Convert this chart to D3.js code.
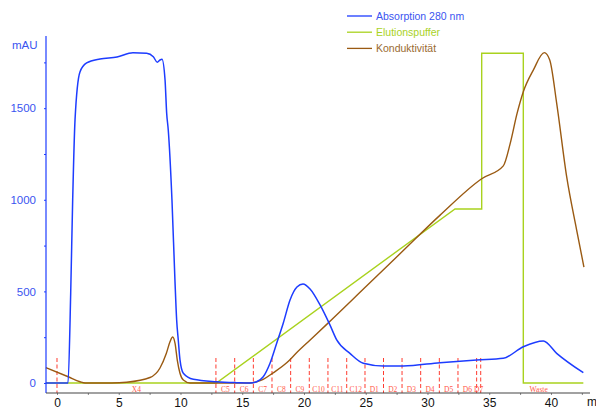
<!DOCTYPE html>
<html>
<head>
<meta charset="utf-8">
<script src="https://cdn.jsdelivr.net/npm/d3@7"></script>
<style>
  body { margin: 0; background: #fff; }
  svg { display: block; font-family: "Liberation Sans", Arial, sans-serif; }
</style>
</head>
<body>
<svg width="596" height="408"></svg>
<script>
// Absorption 280 nm (mAU) : [min, value]
var absorption = [
  [-0.9, 0], [0.89, 0], [1.11, 491], [1.27, 999], [1.46, 1436], [1.86, 1698],
  [2.4, 1747], [3.48, 1769], [4.86, 1779], [6.15, 1803], [7.26, 1800],
  [7.8, 1781], [8.12, 1751], [8.34, 1763], [8.5, 1767], [8.75, 1654],
  [8.88, 1474], [9.01, 1381], [9.31, 999], [9.55, 562], [9.69, 344],
  [9.82, 235], [9.96, 126], [10.23, 53], [11.04, 20], [12.93, 7],
  [14.55, 2], [15.63, 0], [16.17, 7], [16.7, 34], [17.25, 108],
  [17.79, 217], [18.32, 326], [18.87, 453], [19.43, 524], [19.92, 540],
  [20.49, 513], [21.3, 426], [22.1, 317], [22.65, 235], [23.72, 162],
  [24.8, 108], [26.42, 93], [28.04, 93], [31.01, 111], [33.98, 126],
  [36.14, 135], [37.76, 198], [39.38, 229], [40.46, 162], [42.62, 56]
];

// Elutionspuffer
var buffer = [
  [-0.9, 0], [12.9, 0], [32.23, 950], [34.39, 950], [34.39, 1800],
  [37.76, 1800], [37.76, 0], [42.62, 0]
];

// Konduktivität
var conductivity = [
  [-0.9, 84], [0.91, 34], [1.86, 7], [2.27, 0], [4.43, 0], [5.64, 4],
  [7.53, 30], [8.34, 82], [8.85, 161], [9.15, 225], [9.37, 251],
  [9.56, 216], [9.74, 125], [9.96, 53], [10.23, 16], [10.77, 0],
  [15.63, 0], [16.17, 7], [16.7, 20], [17.5, 55], [18.6, 110],
  [19.4, 165], [20.5, 235], [21.84, 320], [25, 525], [28, 720],
  [31, 915], [34.39, 1115], [36.14, 1185], [36.7, 1308], [37.25, 1470],
  [37.76, 1590], [38.57, 1708], [39.46, 1803], [39.9, 1763],
  [40.46, 1528], [41.27, 1126], [42.08, 835], [42.67, 632]
];

// fraction marks (min) and their names
var fractionMarks = [0, 12.87, 14.39, 15.9, 17.41, 18.92, 20.43, 21.94, 23.46,
  24.94, 26.44, 27.94, 29.45, 30.96, 32.47, 33.98, 34.31];
var fractionNames = ["X4", "C5", "C6", "C7", "C8", "C9", "C10", "C11", "C12",
  "D1", "D2", "D3", "D4", "D5", "D6", "D7", "Waste"];

var xTicks = [0, 5, 10, 15, 20, 25, 30, 35, 40];
var yTicks = [0, 500, 1000, 1500];

var svg = d3.select("svg");

var x = d3.scaleLinear().domain([-0.89, 43.16]).range([46, 590]);
var y = d3.scaleLinear().domain([-54.6, 1894]).range([393, 36]);

var blue = "#1d3cff", green = "#a9d21e", brown = "#9a5a12";

// fraction markers
svg.selectAll(".frac")
  .data(fractionMarks)
  .enter()
  .append("line")
    .attr("x1", function(d){ return x(d) })
    .attr("x2", function(d){ return x(d) })
    .attr("y1", 358)
    .attr("y2", 393)
    .attr("stroke", "#ff3b2f")
    .attr("stroke-width", 1)
    .attr("stroke-dasharray", "4,2.5");

var labelPos = fractionNames.map(function(n, i){
  var a = fractionMarks[i], b = i + 1 < fractionMarks.length ? fractionMarks[i + 1] : 43.7;
  return {name: n, pos: (a + b) / 2};
});

svg.selectAll(".fracLabel")
  .data(labelPos)
  .enter()
  .append("text")
    .attr("x", function(d){ return x(d.pos) })
    .attr("y", 392)
    .attr("text-anchor", "middle")
    .style("font-family", "'Liberation Serif', 'Times New Roman', serif")
    .style("font-size", "7.5px")
    .attr("fill", "#ff5a4a")
    .text(function(d){ return d.name });

// curves
var line = d3.line()
  .x(function(d){ return x(d[0]) })
  .y(function(d){ return y(d[1]) });

svg.append("path")
  .datum(buffer)
  .attr("fill", "none")
  .attr("stroke", green)
  .attr("stroke-width", 1.4)
  .attr("d", line.curve(d3.curveLinear));

svg.append("path")
  .datum(conductivity)
  .attr("fill", "none")
  .attr("stroke", brown)
  .attr("stroke-width", 1.4)
  .attr("d", line.curve(d3.curveMonotoneX));

svg.append("path")
  .datum(absorption)
  .attr("fill", "none")
  .attr("stroke", blue)
  .attr("stroke-width", 1.5)
  .attr("d", line.curve(d3.curveMonotoneX));

// y axis
var yAxis = d3.axisLeft(y)
  .tickValues(d3.range(0, 1751, 250))
  .tickSize(2)
  .tickPadding(8)
  .tickFormat(function(d){ return yTicks.indexOf(d) >= 0 ? d : "" });

var gy = svg.append("g").attr("transform", "translate(46,0)").call(yAxis);
gy.select(".domain").remove();
gy.selectAll("line").attr("stroke", blue);
gy.selectAll("text").attr("fill", "#3a55f0").style("font-size", "11.5px");

svg.append("line")
  .attr("x1", 46).attr("x2", 46)
  .attr("y1", 36).attr("y2", 393)
  .attr("stroke", blue)
  .attr("stroke-width", 1.2);

svg.append("text")
  .attr("x", 12).attr("y", 49)
  .attr("fill", "#3a55f0")
  .style("font-size", "11.5px")
  .text("mAU");

// x axis
var xAxis = d3.axisBottom(x)
  .tickValues(d3.range(0, 42.6, 2.5))
  .tickSize(2)
  .tickPadding(3)
  .tickFormat(function(d){ return xTicks.indexOf(d) >= 0 ? d : "" });

var gx = svg.append("g").attr("transform", "translate(0,393)").call(xAxis);
gx.select(".domain").remove();
gx.selectAll("line").attr("stroke", "#888");
gx.selectAll("text").attr("fill", "#111").style("font-size", "12px");

svg.append("line")
  .attr("x1", 46).attr("x2", 590)
  .attr("y1", 393).attr("y2", 393)
  .attr("stroke", "#444")
  .attr("stroke-width", 1.2);

svg.append("text")
  .attr("x", 587).attr("y", 406)
  .attr("fill", "#111")
  .style("font-size", "12px")
  .text("min");

// legend
var legend = [
  {name: "Absorption 280 nm", color: blue, text: "#3a55f0"},
  {name: "Elutionspuffer", color: green, text: "#a9d21e"},
  {name: "Konduktivität", color: brown, text: "#9a6a30"}
];

var lg = svg.selectAll(".legend")
  .data(legend)
  .enter()
  .append("g")
    .attr("transform", function(d, i){ return "translate(347," + (16 + i * 16.2) + ")" });

lg.append("line")
  .attr("x1", 0).attr("x2", 25)
  .attr("stroke", function(d){ return d.color })
  .attr("stroke-width", 1.3);

lg.append("text")
  .attr("x", 29).attr("y", 4)
  .attr("fill", function(d){ return d.text })
  .style("font-size", "10.5px")
  .text(function(d){ return d.name });
</script>
</body>
</html>
